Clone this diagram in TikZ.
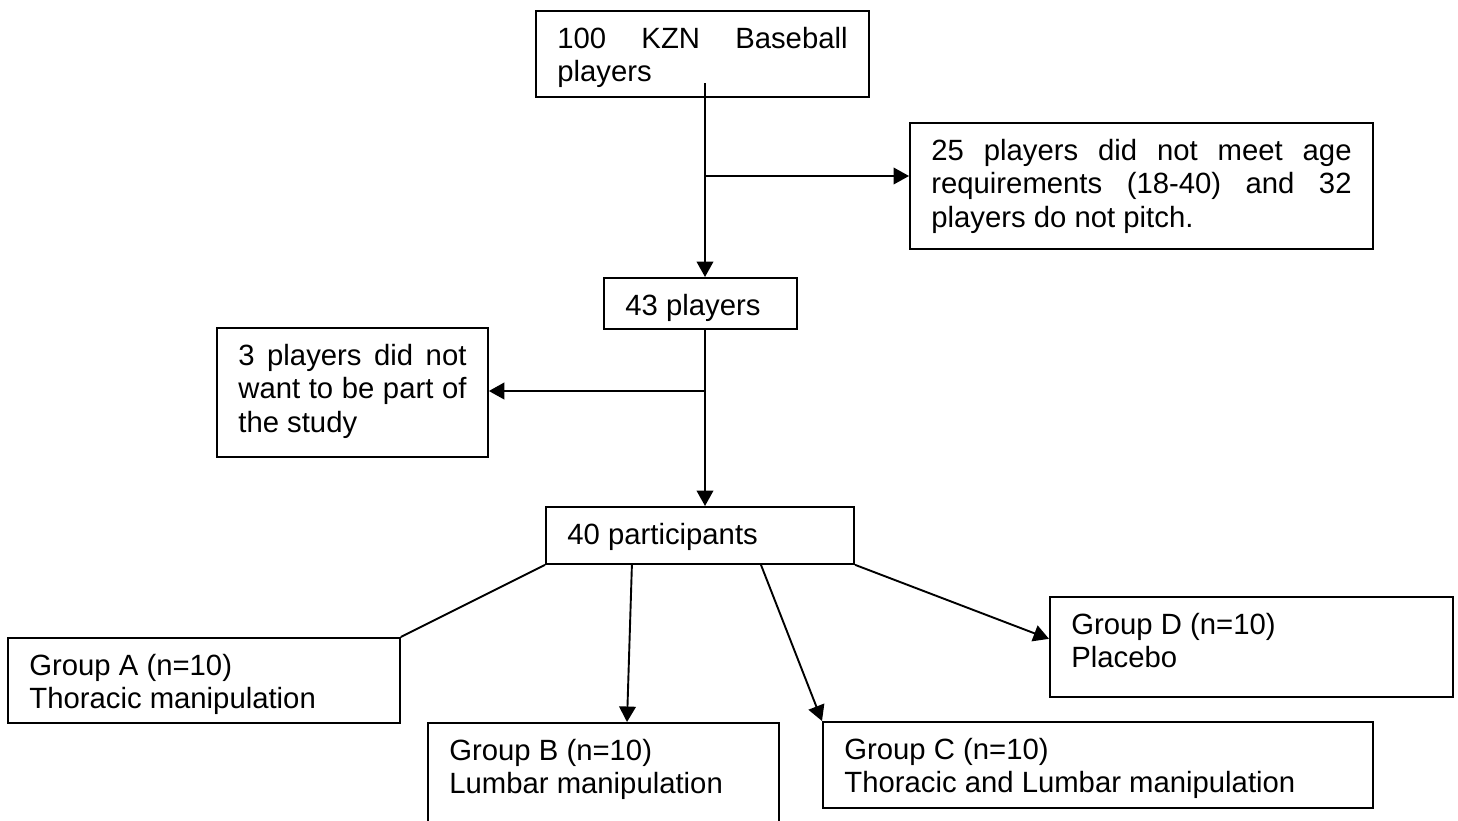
\documentclass[tikz,border=0pt]{standalone}
\usepackage{fontspec}
\setmainfont{Liberation Sans}
\usetikzlibrary{arrows.meta}

\newcommand{\stagetext}[3]{\parbox[c][#1][t]{#2}{\tolerance=10000\hbadness=10000\hyphenpenalty=10000\strut #3}}

\begin{document}
\begin{tikzpicture}[>={Triangle[length=6.5pt, width=7pt]}, x=0.42pt, y=-0.42pt, line width=0.8pt, stage/.style={draw, anchor=north west, inner xsep=9pt, inner ysep=6pt, font=\fontsize{12.3}{14}\selectfont}]
  \useasboundingbox (0,0) rectangle (1458,821);

  \node[stage] (kzn)     at (535,10)  {\stagetext{24.1pt}{121.9pt}{100 KZN Baseball\linebreak players}};
  \node[stage] (age)     at (909,122) {\stagetext{40.9pt}{176.5pt}{25 players did not meet age\linebreak requirements (18-40) and 32\linebreak players do not pitch.}};
  \node[stage] (p43)     at (603,277) {\stagetext{9.4pt}{63.1pt}{43 players}};
  \node[stage] (refused) at (216,327) {\stagetext{42.2pt}{95.8pt}{3 players did not\linebreak want to be part of\linebreak the study}};
  \node[stage] (p40)     at (545,506) {\stagetext{11.9pt}{111.4pt}{40 participants}};
  \node[stage] (grp_a)   at (7,637)   {\stagetext{23.7pt}{146.6pt}{Group A (n=10)\\Thoracic manipulation}};
  \node[stage] (grp_b)   at (427,722) {\stagetext{42.6pt}{129.4pt}{Group B (n=10)\\Lumbar manipulation}};
  \node[stage] (grp_c)   at (822,721) {\stagetext{24.1pt}{213pt}{Group C (n=10)\\Thoracic and Lumbar manipulation}};
  \node[stage] (grp_d)   at (1049,596) {\stagetext{30pt}{151.3pt}{Group D (n=10)\\Placebo}};

  \coordinate (trunk_top)     at (705,83);
  \coordinate (split_age)     at (705,176);
  \coordinate (split_refused) at (705,391);

  \path[->]
        (trunk_top)                      edge      (trunk_top |- p43.north)
        (split_age)                      edge      (age.west |- split_age)
        (split_refused |- p43.south)     edge      (split_refused |- p40.north)
        (split_refused)                  edge      (refused.east |- split_refused)
        (p40.south west)                 edge [-]  (grp_a.north east)
        ([xshift=36.5pt]p40.south west)  edge      ([xshift=9.9pt]grp_b.north)
        ([xshift=90.7pt]p40.south west)  edge      (grp_c.north west)
        (p40.south east)                 edge      ([yshift=3.4pt]grp_d.west)
        ;
\end{tikzpicture}
\end{document}
